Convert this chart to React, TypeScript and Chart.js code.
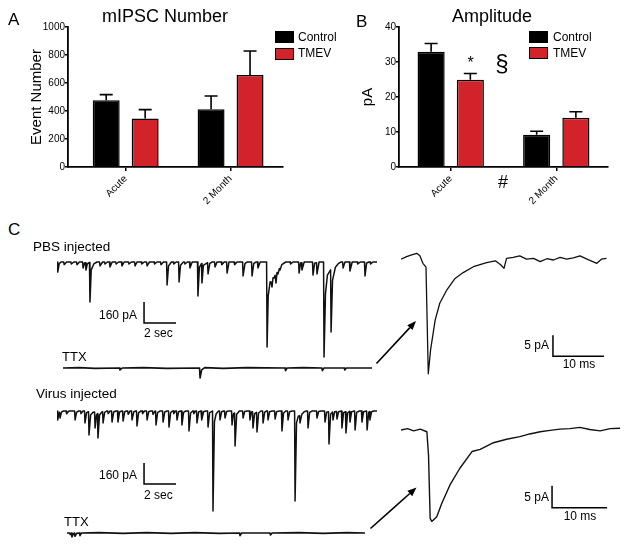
import React, { useEffect, useRef } from "react";
import { Chart, registerables } from "chart.js";

Chart.register(...registerables);

const FONT = "'Liberation Sans', Arial, Helvetica, sans-serif";
const RED = "#d2232a";

// ---------- Panels A and B (bar charts) ----------
const categories = ["Acute", "2 Month"];
const seriesNames = ["Control", "TMEV"];

const numberControl = [476, 412];
const numberControlSem = [41, 95];
const numberTmev = [346, 657];
const numberTmevSem = [64, 172];
const numberTicks = [0, 200, 400, 600, 800, 1000];

const ampControl = [32.9, 9.2];
const ampControlSem = [2.4, 1.0];
const ampTmev = [24.9, 14.1];
const ampTmevSem = [1.8, 1.7];
const ampTicks = [0, 10, 20, 30, 40];

// ---------- Panel C (recordings: [time, current]) ----------
// PBS injected, seconds / pA
const pbsTrace: number[][] = [
  [0, 0], [0.03, 0], [0.06, -76], [0.14, -12], [0.25, 0],
  [0.42, 0], [0.45, -20], [0.6, 0], [0.87, 0], [0.9, -15], [1.05, 0],
  [1.22, 0], [1.25, -20], [1.4, 0], [1.6, 0], [1.63, -46], [1.72, -8], [1.78, -5], [1.81, -61], [1.9, -12], [2.03, -4],
  [2.06, -304], [2.14, -60], [2.3, -15], [2.5, 0], [2.66, 0], [2.69, -30], [2.85, 0],
  [2.97, 0], [3.0, -15], [3.15, 0], [3.28, 0], [3.31, -38], [3.45, 0], [3.67, 0], [3.7, -15], [3.85, 0],
  [4.03, 0], [4.06, -30], [4.2, 0], [4.47, 0], [4.5, -15], [4.65, 0], [4.85, 0], [4.88, -30], [5.0, 0],
  [5.27, 0], [5.3, -15], [5.45, 0], [5.6, 0], [5.63, -30], [5.78, 0], [6.07, 0], [6.1, -15], [6.25, 0],
  [6.47, 0], [6.5, -20], [6.65, 0], [6.85, 0], [6.88, -175], [6.97, -30], [7.15, 0],
  [7.27, 0], [7.3, -15], [7.45, 0], [7.6, 0], [7.63, -152], [7.72, -25], [7.9, 0],
  [7.97, 0], [8.0, -15], [8.15, 0], [8.28, 0], [8.31, -46], [8.45, 0],
  [8.78, 0], [8.81, -258], [8.9, -40], [9.03, -12], [9.06, -160], [9.15, -25], [9.41, -5], [9.44, -91], [9.55, -10], [9.7, 0],
  [9.85, 0], [9.88, -38], [10.0, 0], [10.27, 0], [10.3, -20], [10.45, 0], [10.6, 0], [10.63, -84], [10.75, 0],
  [11.07, 0], [11.1, -20], [11.25, 0], [11.6, 0], [11.63, -106], [11.75, -10], [11.9, 0],
  [12.16, 0], [12.19, -106], [12.3, -10], [12.45, 0], [12.53, 0], [12.56, -46], [12.7, 0],
  [13.1, 0], [13.13, -646], [13.2, -260], [13.25, -213], [13.32, -150], [13.38, -152], [13.44, -190],
  [13.5, -120], [13.56, -122], [13.63, -100], [13.69, -160], [13.75, -80], [13.81, -91], [13.9, -50],
  [13.94, -61], [14.05, -20], [14.3, 0], [14.57, 0], [14.6, -15], [14.75, 0],
  [15.1, 0], [15.13, -84], [15.22, -8], [15.28, -5], [15.31, -61], [15.45, 0],
  [15.97, 0], [16.0, -99], [16.1, -10], [16.22, -5], [16.25, -91], [16.38, 0],
  [16.66, 0], [16.69, -722], [16.78, -240], [16.9, -100], [17.1, -60], [17.13, -532], [17.22, -140], [17.4, -40], [17.6, -10], [17.75, 0],
  [17.85, 0], [17.88, -46], [18.0, 0], [18.28, 0], [18.31, -68], [18.45, 0], [18.77, 0], [18.8, -15], [18.95, 0],
  [19.22, 0], [19.25, -106], [19.35, -8], [19.5, 0], [19.57, 0], [19.6, -15], [19.75, 0], [20, 0],
];

const pbsTtxTrace: number[][] = [
  [0, 0], [1.0, 3], [2.0, -3], [3.53, 0], [3.56, -15], [3.7, 0], [5.0, 3], [6.5, -3],
  [8.53, 0], [8.56, -76], [8.66, -15], [8.85, 3], [10.0, -3], [11.5, 3], [13.87, 0], [13.9, -20],
  [14.0, 0], [15.0, 3], [16.17, 0], [16.2, -20], [16.3, 0], [17.57, 0], [17.6, -15], [17.7, 0], [19.3, 0],
];

// milliseconds / pA
const pbsInsetTrace: number[][] = [
  [0, 0.2], [1.1, 0.8], [2.1, 1.2], [3.1, 1.6], [3.7, 1.0], [4.3, -0.8], [4.9, -1.7],
  [5.35, -27.1], [5.8, -21.4], [6.7, -14.3], [7.6, -10.3], [9.0, -7.1], [10.6, -4.4],
  [12.2, -3.0], [14.2, -1.6], [16.8, -0.6], [18.5, -0.2], [19.6, -1.2], [20.2, -2.0],
  [20.7, 0.4], [22.0, 0.6], [23.3, 1.0], [24.6, 0.2], [26.0, 0.4], [27.3, -0.4], [28.6, 0.3],
  [29.9, 0], [31.2, 0.6], [32.5, 0.2], [33.8, 0.5], [35.1, 1.0], [36.7, 0.1], [38.4, -0.8],
  [39.3, 0.2], [40.3, 0.4],
];

// Virus injected, seconds / pA
const virusTrace: number[][] = [
  [0, 0], [0.03, 0], [0.06, -68], [0.13, -15], [0.16, -10], [0.19, -53], [0.28, -8], [0.4, 0],
  [0.57, 0], [0.6, -20], [0.75, 0], [1.1, 0], [1.13, -68], [1.22, -10], [1.35, 0],
  [1.47, 0], [1.5, -20], [1.62, 0], [1.72, 0], [1.75, -91], [1.85, -12], [1.97, -5], [2.0, -182], [2.1, -30],
  [2.25, -10], [2.35, -8], [2.38, -129], [2.47, -30], [2.53, -20], [2.56, -205], [2.66, -30], [2.8, -8],
  [2.85, -5], [2.88, -91], [2.98, -10], [3.1, 0], [3.17, 0], [3.2, -20], [3.32, 0],
  [3.41, 0], [3.44, -84], [3.54, -8], [3.68, 0], [3.78, 0], [3.81, -84], [3.91, -8], [4.05, 0],
  [4.1, 0], [4.13, -76], [4.23, -6], [4.35, 0], [4.42, 0], [4.45, -25], [4.57, 0],
  [4.66, 0], [4.69, -68], [4.8, -6], [4.93, 0], [4.97, 0], [5.0, -114], [5.1, -12], [5.25, 0],
  [5.32, 0], [5.35, -20], [5.47, 0], [5.6, 0], [5.63, -68], [5.73, -6], [5.87, 0],
  [5.97, 0], [6.0, -25], [6.1, -4], [6.16, 0], [6.19, -106], [6.29, -10], [6.45, 0],
  [6.6, 0], [6.63, -84], [6.73, -8], [6.88, 0], [6.97, 0], [7.0, -122], [7.1, -12], [7.22, 0],
  [7.27, 0], [7.3, -20], [7.4, 0], [7.47, 0], [7.5, -68], [7.6, -6], [7.72, 0],
  [7.78, 0], [7.81, -106], [7.91, -10], [8.05, 0], [8.22, 0], [8.25, -152], [8.35, -15], [8.48, 0],
  [8.52, 0], [8.55, -20], [8.65, 0], [8.72, 0], [8.75, -91], [8.85, -8], [9.0, 0],
  [9.03, 0], [9.06, -68], [9.16, -6], [9.3, 0], [9.41, 0], [9.44, -122], [9.54, -12], [9.68, -3],
  [9.72, 0], [9.75, -760], [9.84, -80], [9.95, -20], [10.1, 0],
  [10.16, 0], [10.19, -68], [10.29, -6], [10.42, 0], [10.47, 0], [10.5, -53], [10.6, -4], [10.75, 0],
  [10.91, 0], [10.94, -106], [11.03, -20], [11.1, -15], [11.13, -266], [11.23, -25], [11.4, 0],
  [11.6, 0], [11.63, -53], [11.73, -4], [11.88, 0],
  [12.03, 0], [12.06, -68], [12.15, -8], [12.22, -5], [12.25, -129], [12.35, -20], [12.47, -10], [12.5, -160], [12.6, -15], [12.75, 0],
  [12.85, 0], [12.88, -91], [12.98, -8], [13.1, 0], [13.16, 0], [13.19, -68], [13.29, -6], [13.45, 0],
  [13.6, 0], [13.63, -61], [13.73, -5], [13.88, 0], [14.03, 0], [14.06, -152], [14.16, -15], [14.3, 0],
  [14.41, 0], [14.44, -68], [14.54, -6], [14.7, 0],
  [14.85, 0], [14.88, -684], [14.97, -90], [15.08, -40], [15.16, -35], [15.19, -91], [15.3, -25], [15.45, -5], [15.6, 0],
  [15.66, 0], [15.69, -129], [15.79, -10], [15.95, 0], [16.22, 0], [16.25, -53], [16.35, -4], [16.5, 0],
  [16.72, 0], [16.75, -84], [16.85, -10], [16.97, -5], [17.0, -251], [17.1, -25], [17.22, -8], [17.25, -68],
  [17.35, -6], [17.47, -3], [17.5, -61], [17.6, -5], [17.78, 0],
  [17.81, -129], [17.91, -12], [18.03, -5], [18.06, -167], [18.16, -15], [18.28, -3], [18.31, -84], [18.41, -6], [18.6, 0],
  [18.63, -144], [18.73, -10], [18.9, 0], [19.03, 0], [19.06, -84], [19.16, -6], [19.35, 0],
  [19.38, -144], [19.48, -10], [19.53, -5], [19.56, -68], [19.66, -5], [19.8, 0], [20, 0],
];

const virusTtxTrace: number[][] = [
  [0, 0], [0.17, 0], [0.2, -12], [0.28, 0], [0.31, -30], [0.4, -5], [0.47, 0], [0.5, -25], [0.6, -3],
  [0.78, 0], [0.81, -20], [0.9, 0], [2.0, 3], [3.5, -3], [5.0, 3], [6.5, -3], [8.0, 3], [9.5, -3],
  [10.77, 0], [10.8, -20], [10.9, 0], [12.67, 0], [12.7, -15], [12.8, 0], [14.5, 3], [16.0, -3],
  [17.5, 3], [18.6, 0],
];

const virusInsetTrace: number[][] = [
  [0, 0], [1.2, 0.3], [2.3, -0.2], [3.5, 0.2], [4.7, -0.4], [5.0, -5.7], [5.3, -20.1],
  [5.6, -20.8], [6.5, -19.7], [7.4, -16.7], [8.9, -12.5], [10.7, -8.7], [12.9, -4.9],
  [14.4, -4.4], [16.8, -2.9], [19.2, -2.1], [21.6, -1.5], [23.4, -0.9], [25.3, -0.4],
  [27.1, -0.1], [28.9, 0.2], [30.7, 0.3], [32.5, 0.6], [34.3, 0.1], [36.2, -0.2], [38.0, 0.3],
  [39.8, 0.4],
];

// scale bar sizes
const traceBarPa = 160;
const traceBarSec = 2;
const insetBarPa = 5;
const insetBarMs = 10;

// ---------- plugins / helpers ----------
const errorBarPlugin = {
  id: "errorBars",
  afterDatasetsDraw(chart: any) {
    const { ctx } = chart;
    const yScale = chart.scales.y;
    chart.data.datasets.forEach((ds: any, di: number) => {
      const meta = chart.getDatasetMeta(di);
      meta.data.forEach((bar: any, i: number) => {
        const v = ds.data[i].y;
        const top = yScale.getPixelForValue(v + ds.errors[i]);
        ctx.save();
        ctx.strokeStyle = "#000";
        ctx.lineWidth = 1.6;
        ctx.beginPath();
        ctx.moveTo(bar.x, bar.y);
        ctx.lineTo(bar.x, top);
        ctx.moveTo(bar.x - 6.5, top);
        ctx.lineTo(bar.x + 6.5, top);
        ctx.stroke();
        ctx.restore();
      });
    });
  },
};

function makeBarConfig(p: any) {
  const axisGrid = (len: number) => ({
    display: true,
    drawOnChartArea: false,
    drawTicks: true,
    tickLength: len,
    color: "#000",
    lineWidth: 1.5,
    offset: false,
  });
  const border = { display: true, color: "#000", width: 1.8 };
  return {
    type: "bar",
    data: {
      datasets: [
        {
          label: seriesNames[0],
          data: p.control.map((y: number, i: number) => ({ x: i, y })),
          errors: p.controlSem,
          backgroundColor: "#000",
          borderColor: "#000",
          borderWidth: 1.5,
          categoryPercentage: 0.743,
          barPercentage: 0.692,
        },
        {
          label: seriesNames[1],
          data: p.tmev.map((y: number, i: number) => ({ x: i, y })),
          errors: p.tmevSem,
          backgroundColor: RED,
          borderColor: "#000",
          borderWidth: 1.5,
          categoryPercentage: 0.743,
          barPercentage: 0.692,
        },
      ],
    },
    options: {
      animation: false,
      responsive: false,
      maintainAspectRatio: false,
      events: [],
      layout: { padding: { left: p.padLeft, right: p.padRight, top: 27, bottom: 0 } },
      plugins: { legend: { display: false }, tooltip: { enabled: false }, title: { display: false } },
      scales: {
        x: {
          type: "linear",
          min: p.xMin,
          max: p.xMax,
          offset: false,
          afterBuildTicks: (s: any) => {
            s.ticks = categories.map((_, i) => ({ value: i }));
          },
          afterFit: (s: any) => {
            s.height = 48;
          },
          ticks: {
            autoSkip: false,
            minRotation: 45,
            maxRotation: 45,
            padding: 2,
            color: "#000",
            font: { family: FONT, size: 10 },
            callback: (v: any) => categories[v] ?? "",
          },
          grid: axisGrid(4),
          border,
        },
        y: {
          type: "linear",
          min: 0,
          max: p.ticks[p.ticks.length - 1],
          afterBuildTicks: (s: any) => {
            s.ticks = p.ticks.map((v: number) => ({ value: v }));
          },
          afterFit: (s: any) => {
            s.width = 44;
          },
          ticks: {
            padding: 0,
            color: "#000",
            font: { family: FONT, size: 10 },
            callback: (v: any) => String(v),
          },
          title: {
            display: true,
            text: p.yTitle,
            color: "#000",
            font: { family: FONT, size: 15 },
            padding: { top: 4, bottom: 4 },
          },
          grid: axisGrid(3),
          border,
        },
      },
    },
    plugins: [errorBarPlugin],
  };
}

function makeTraceConfig(
  trace: number[][],
  width: number,
  xRange: number[],
  yRange: number[],
  bar?: { at: number[]; amp: number; dur: number }
) {
  const datasets: any[] = [
    {
      data: trace.map(([x, y]) => ({ x, y })),
      borderColor: "#111",
      borderWidth: width,
      pointRadius: 0,
      tension: 0,
      fill: false,
      clip: false,
      borderJoinStyle: "round",
    },
  ];
  if (bar) {
    const [t0, y0] = bar.at;
    datasets.push({
      data: [
        { x: t0, y: y0 },
        { x: t0, y: y0 - bar.amp },
        { x: t0 + bar.dur, y: y0 - bar.amp },
      ],
      borderColor: "#000",
      borderWidth: 1.5,
      pointRadius: 0,
      tension: 0,
      fill: false,
      clip: false,
      borderJoinStyle: "miter",
    });
  }
  return {
    type: "line",
    data: { datasets },
    options: {
      animation: false,
      responsive: false,
      maintainAspectRatio: false,
      events: [],
      layout: { padding: 0 },
      plugins: { legend: { display: false }, tooltip: { enabled: false } },
      scales: {
        x: { type: "linear", display: false, min: xRange[0], max: xRange[1] },
        y: { type: "linear", display: false, min: yRange[0], max: yRange[1] },
      },
    },
  };
}

function ChartBox({ make, left, top, width, height }: any) {
  const ref = useRef<HTMLCanvasElement>(null);
  useEffect(() => {
    const chart = new Chart(ref.current as HTMLCanvasElement, make());
    return () => chart.destroy();
  }, []);
  return (
    <canvas
      ref={ref}
      width={width}
      height={height}
      style={{ position: "absolute", left, top, width, height }}
    />
  );
}

function Label({ text, x, y, size, align = "left" }: any) {
  const transform =
    align === "center" ? "translateX(-50%)" : align === "right" ? "translateX(-100%)" : undefined;
  return (
    <div
      style={{
        position: "absolute",
        left: x,
        top: y - 0.8465 * size,
        fontSize: size,
        lineHeight: 1,
        whiteSpace: "nowrap",
        transform,
        color: "#000",
        fontFamily: FONT,
      }}
    >
      {text}
    </div>
  );
}

function LegendBox({ x, y, w, h, color }: any) {
  return (
    <div
      style={{
        position: "absolute",
        left: x,
        top: y,
        width: w,
        height: h,
        background: color,
        border: "1.5px solid #000",
        boxSizing: "border-box",
      }}
    />
  );
}

function Arrow({ from, to }: any) {
  const dx = to[0] - from[0];
  const dy = to[1] - from[1];
  const len = Math.hypot(dx, dy);
  const ux = dx / len;
  const uy = dy / len;
  const hl = 9;
  const hw = 3.6;
  const bx = to[0] - ux * hl;
  const by = to[1] - uy * hl;
  const pts = `${to[0]},${to[1]} ${bx - uy * hw},${by + ux * hw} ${bx + uy * hw},${by - ux * hw}`;
  return (
    <g>
      <line x1={from[0]} y1={from[1]} x2={bx} y2={by} stroke="#000" strokeWidth={1.6} />
      <polygon points={pts} fill="#000" />
    </g>
  );
}

export default function App() {
  return (
    <div
      style={{
        position: "absolute",
        left: 0,
        top: 0,
        width: 629,
        height: 547,
        background: "#fff",
        overflow: "hidden",
        fontFamily: FONT,
      }}
    >
      {/* Panel A */}
      <ChartBox
        left={0}
        top={0}
        width={300}
        height={215}
        make={() =>
          makeBarConfig({
            control: numberControl,
            controlSem: numberControlSem,
            tmev: numberTmev,
            tmevSem: numberTmevSem,
            ticks: numberTicks,
            yTitle: "Event Number",
            xMin: -0.55,
            xMax: 1.5,
            padLeft: 24,
            padRight: 17,
          })
        }
      />
      {/* Panel B */}
      <ChartBox
        left={320}
        top={0}
        width={300}
        height={215}
        make={() =>
          makeBarConfig({
            control: ampControl,
            controlSem: ampControlSem,
            tmev: ampTmev,
            tmevSem: ampTmevSem,
            ticks: ampTicks,
            yTitle: "pA",
            xMin: -0.49,
            xMax: 1.49,
            padLeft: 35,
            padRight: 12,
          })
        }
      />

      {/* Panel C traces */}
      <ChartBox
        left={57}
        top={250}
        width={320}
        height={112}
        make={() =>
          makeTraceConfig(pbsTrace, 1.5, [0, 20], [-760, 91.2], {
            at: [5.44, -304],
            amp: traceBarPa,
            dur: traceBarSec,
          })
        }
      />
      <ChartBox
        left={63}
        top={358}
        width={309}
        height={25}
        make={() => makeTraceConfig(pbsTtxTrace, 1.6, [0, 19.3], [-114, 76])}
      />
      <ChartBox
        left={401}
        top={250}
        width={206}
        height={128}
        make={() =>
          makeTraceConfig(pbsInsetTrace, 1.3, [0, 40.4], [-28.1, 2.38], {
            at: [29.8, -17.9],
            amp: insetBarPa,
            dur: insetBarMs,
          })
        }
      />
      <ChartBox
        left={57}
        top={400}
        width={320}
        height={120}
        make={() =>
          makeTraceConfig(virusTrace, 1.5, [0, 20], [-828.4, 83.6], {
            at: [5.44, -395],
            amp: traceBarPa,
            dur: traceBarSec,
          })
        }
      />
      <ChartBox
        left={67}
        top={523}
        width={298}
        height={22}
        make={() => makeTraceConfig(virusTtxTrace, 1.6, [0, 18.6], [-91, 76])}
      />
      <ChartBox
        left={401}
        top={420}
        width={219}
        height={105}
        make={() =>
          makeTraceConfig(virusInsetTrace, 1.4, [0, 39.8], [-21.6, 2.27], {
            at: [27.45, -12.7],
            amp: insetBarPa,
            dur: insetBarMs,
          })
        }
      />

      {/* Text: panel A */}
      <Label text="A" x={8} y={25} size={17} />
      <Label text="mIPSC Number" x={165} y={22} size={18} align="center" />
      <LegendBox x={275} y={31} w={19} h={12} color="#000" />
      <Label text={seriesNames[0]} x={298} y={41} size={12} />
      <LegendBox x={275} y={48} w={19} h={12} color={RED} />
      <Label text={seriesNames[1]} x={298} y={57} size={12} />

      {/* Text: panel B */}
      <Label text="B" x={356} y={27} size={17} />
      <Label text="Amplitude" x={492} y={22} size={18} align="center" />
      <LegendBox x={529} y={31} w={19} h={12} color="#000" />
      <Label text={seriesNames[0]} x={553} y={41} size={12} />
      <LegendBox x={529} y={47} w={19} h={12} color={RED} />
      <Label text={seriesNames[1]} x={553} y={57} size={12} />
      <Label text="*" x={470.5} y={69} size={16} align="center" />
      <Label text="§" x={502} y={71} size={24} align="center" />
      <Label text="#" x={503} y={188} size={18} align="center" />

      {/* Text: panel C */}
      <Label text="C" x={8} y={235} size={17} />
      <Label text="PBS injected" x={33} y={251} size={13.5} />
      <Label text="160 pA" x={137} y={319} size={12} align="right" />
      <Label text="2 sec" x={144} y={337} size={12} />
      <Label text="TTX" x={62} y={361.5} size={13} />
      <Label text="5 pA" x={549} y={349} size={12} align="right" />
      <Label text="10 ms" x={579} y={368} size={12} align="center" />

      <Label text="Virus injected" x={36} y={398} size={13.5} />
      <Label text="160 pA" x={137} y={479} size={12} align="right" />
      <Label text="2 sec" x={144} y={499} size={12} />
      <Label text="TTX" x={64} y={526.5} size={13} />
      <Label text="5 pA" x={549} y={501.5} size={12} align="right" />
      <Label text="10 ms" x={580} y={520} size={12} align="center" />

      <svg
        width={629}
        height={547}
        style={{ position: "absolute", left: 0, top: 0, pointerEvents: "none" }}
      >
        <Arrow from={[376.5, 363.5]} to={[416, 321]} />
        <Arrow from={[370.5, 528.5]} to={[416.5, 487.5]} />
      </svg>
    </div>
  );
}
